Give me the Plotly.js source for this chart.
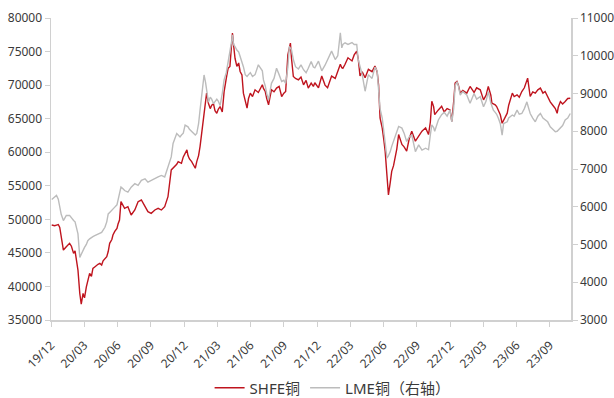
<!DOCTYPE html>
<html>
<head>
<meta charset="utf-8">
<script src="https://cdn.plot.ly/plotly-3.0.1.min.js"></script>
<style>
html,body{margin:0;padding:0;background:#fff;}
#chart{width:614px;height:398px;}
</style>
</head>
<body>
<div id="chart"></div>
<script>
const dates = [
'2020-01-02','2020-01-10','2020-01-15','2020-01-20','2020-01-24','2020-01-28','2020-02-03','2020-02-11','2020-02-20','2020-02-25',
'2020-03-02','2020-03-06','2020-03-09','2020-03-14','2020-03-19','2020-03-23','2020-03-28','2020-04-01','2020-04-06','2020-04-10',
'2020-04-15','2020-04-20','2020-04-24','2020-04-29','2020-05-04','2020-05-08','2020-05-13','2020-05-18','2020-05-22','2020-05-27',
'2020-06-01','2020-06-05','2020-06-09','2020-06-15','2020-06-18','2020-06-23','2020-06-29','2020-07-02','2020-07-06','2020-07-10',
'2020-07-15','2020-07-20','2020-07-29','2020-08-07','2020-08-17','2020-08-26','2020-09-04','2020-09-14','2020-09-22','2020-10-01',
'2020-10-11','2020-10-20','2020-10-29','2020-11-07','2020-11-16','2020-11-25','2020-11-30','2020-12-05','2020-12-10','2020-12-14',
'2020-12-19','2020-12-23','2020-12-28','2021-01-02','2021-01-07','2021-01-10','2021-01-14','2021-01-20','2021-01-25','2021-01-30',
'2021-02-03','2021-02-08','2021-02-12','2021-02-18','2021-02-23','2021-02-27','2021-03-02','2021-03-07','2021-03-12','2021-03-16',
'2021-03-21','2021-03-25','2021-03-30','2021-04-03','2021-04-08','2021-04-14','2021-04-19','2021-04-25','2021-04-30','2021-05-05',
'2021-05-10','2021-05-12','2021-05-15','2021-05-19','2021-05-24','2021-05-29','2021-06-02','2021-06-07','2021-06-11','2021-06-16',
'2021-06-21','2021-06-25','2021-06-30','2021-07-06','2021-07-13','2021-07-22','2021-08-02','2021-08-05','2021-08-10','2021-08-14',
'2021-08-19','2021-08-23','2021-08-27','2021-09-03','2021-09-10','2021-09-17','2021-09-24','2021-09-30','2021-10-05','2021-10-11',
'2021-10-15','2021-10-18','2021-10-21','2021-10-26','2021-11-01','2021-11-09','2021-11-16','2021-11-23','2021-11-30','2021-12-06',
'2021-12-14','2021-12-20','2021-12-24','2022-01-03','2022-01-12','2022-01-21','2022-01-28','2022-02-08','2022-02-18','2022-02-25',
'2022-03-04','2022-03-08','2022-03-11','2022-03-17','2022-03-25','2022-04-05','2022-04-11','2022-04-18','2022-04-22','2022-04-27',
'2022-05-03','2022-05-11','2022-05-20','2022-05-30','2022-06-07','2022-06-13','2022-06-17','2022-06-21','2022-06-27','2022-07-01',
'2022-07-05','2022-07-10','2022-07-14','2022-07-19','2022-07-23','2022-07-28','2022-08-02','2022-08-06','2022-08-11','2022-08-20',
'2022-08-26','2022-09-02','2022-09-09','2022-09-16','2022-09-26','2022-10-05','2022-10-14','2022-10-24','2022-11-01','2022-11-06',
'2022-11-10','2022-11-15','2022-11-18','2022-11-28','2022-12-07','2022-12-14','2022-12-22','2022-12-30','2023-01-04','2023-01-09',
'2023-01-13','2023-01-18','2023-01-22','2023-01-27','2023-02-03','2023-02-14','2023-02-23','2023-03-06','2023-03-13','2023-03-23',
'2023-04-01','2023-04-08','2023-04-14','2023-04-21','2023-04-24','2023-04-28','2023-05-03','2023-05-07','2023-05-12','2023-05-17',
'2023-05-22','2023-05-26','2023-05-31','2023-06-05','2023-06-09','2023-06-19','2023-06-24','2023-07-02','2023-07-08','2023-07-15',
'2023-07-22','2023-07-29','2023-07-31','2023-08-07','2023-08-14','2023-08-21','2023-08-28','2023-09-04','2023-09-11','2023-09-17',
'2023-09-24','2023-10-01','2023-10-08','2023-10-15','2023-10-20','2023-10-23','2023-10-29','2023-11-04','2023-11-11','2023-11-18',
'2023-11-25'
];

const shfeCopper = [
49150,49050,49150,49230,48800,47200,45420,45920,46420,46000,
44930,45300,44430,42430,38950,37360,38950,38300,39940,41000,
41940,41500,42680,42900,43180,43300,43430,43200,43830,44100,
44430,45200,46420,47000,47660,48200,48660,49300,49900,52630,
52000,51640,51890,50650,51390,52630,52880,51890,51140,50900,
51390,51640,51390,51890,53370,57360,57600,57860,58200,58600,
58500,58350,59300,59850,60340,59500,59000,58600,58200,57610,
58600,59500,60840,63500,66500,68200,68800,67300,66500,67000,
67200,66200,65800,66400,66800,66000,69000,71000,72500,72780,
76000,77760,76000,74000,72780,73300,72030,71500,68800,67500,
66570,68000,68800,68300,69300,68900,70050,69500,69050,68000,
67060,68200,69300,69000,69550,69800,68300,68800,69050,74520,
75500,76270,74000,71290,71000,70790,71200,70050,70700,69550,
70300,69800,70350,69600,71350,70000,69600,71350,71000,72100,
73100,72600,72500,73100,74070,73600,74500,75070,74000,71350,
72000,71100,72350,72000,72850,72000,70000,65100,63600,62000,
60150,56500,53650,55500,57150,58000,59150,60500,62630,61150,
60800,60150,62000,63130,61650,62400,63130,63630,62630,64500,
67600,66800,65600,66300,66850,66000,66500,66300,64570,67500,
70300,70540,70000,68800,69200,68800,69800,68900,69600,69300,
67800,68500,69800,68500,67300,67200,67050,66800,66200,65570,
64320,64800,65300,65820,67000,68800,68300,68550,68200,69050,
69600,70540,71040,68300,69000,68800,69300,69550,68800,69050,
68200,67500,67000,66500,65800,66700,67550,67200,67550,68000,
68050
];

const lmeCopper = [
6194,6255,6300,6200,5990,5800,5635,5770,5770,5700,
5635,5600,5500,5280,4660,4750,4850,4925,5000,5100,
5150,5190,5210,5235,5260,5280,5300,5320,5380,5455,
5600,5810,5850,5900,5950,5990,6050,6170,6300,6520,
6480,6430,6390,6520,6610,6565,6700,6740,6650,6700,
6740,6790,6830,6790,7055,7320,7675,7800,7940,7900,
7850,7900,7950,8162,8140,8117,8050,7985,7950,7900,
7940,8200,8560,9000,9490,9300,9100,8770,8900,8850,
8730,8800,8850,8800,8680,9000,9360,9550,9800,10100,
10400,10555,10300,10245,10150,10100,9980,9850,9710,9500,
9450,9500,9550,9450,9500,9760,9600,9360,9200,9000,
8830,9050,9270,9400,9670,9500,9320,9350,9270,9700,
10245,10200,10160,9900,9710,9650,9760,9630,9550,9670,
9850,9700,9678,9856,9600,9750,9900,10122,9900,10000,
10609,10210,10300,10343,10300,10350,10300,10300,9900,9700,
9500,9060,9500,9400,9700,9600,8968,8600,8350,8000,
7730,7290,7350,7460,7600,7750,7900,8000,8127,8083,
7950,7730,7850,7900,7460,7640,7500,7550,7510,7900,
8170,8100,8000,8300,8440,8500,8400,8560,8250,8600,
9200,9314,9200,8960,9050,8960,8740,9000,8850,8915,
8650,8800,9050,8750,8650,8560,8500,8450,8340,8200,
7896,8200,8230,8250,8350,8430,8400,8560,8450,8470,
8600,8780,8700,8470,8350,8250,8400,8470,8350,8300,
8250,8120,8050,7990,8000,8030,8080,8150,8300,8350,
8470
];

const tickDates = ['2019-12-31','2020-03-31','2020-06-30','2020-09-30','2020-12-31','2021-03-31','2021-06-30','2021-09-30',
  '2021-12-31','2022-03-31','2022-06-30','2022-09-30','2022-12-31','2023-03-31','2023-06-30','2023-09-30'];
const tickLabels = ['19/12','20/03','20/06','20/09','20/12','21/03','21/06','21/09',
  '21/12','22/03','22/06','22/09','22/12','23/03','23/06','23/09'];

const seriesNames = ['SHFE铜', 'LME铜（右轴）'];

const FONT = 'Noto Sans, Noto Sans CJK SC, sans-serif';
const AXIS_COLOR = '#d0d0d0';
const TEXT_COLOR = '#3a3a3a';

const traces = [
  {x: dates, y: shfeCopper, name: seriesNames[0], type: 'scatter', mode: 'lines',
   line: {color: '#bf141e', width: 1.4}, yaxis: 'y'},
  {x: dates, y: lmeCopper, name: seriesNames[1], type: 'scatter', mode: 'lines',
   line: {color: '#bcbcbc', width: 1.4}, yaxis: 'y2'}
];

const layout = {
  width: 614, height: 398,
  margin: {l: 51, r: 43, t: 18, b: 78, pad: 0, autoexpand: false},
  paper_bgcolor: '#ffffff', plot_bgcolor: '#ffffff',
  font: {family: FONT, size: 12, color: TEXT_COLOR},
  showlegend: true,
  legend: {orientation: 'h', x: 0.305, xanchor: 'left', y: -0.225, yanchor: 'middle',
    font: {family: FONT, size: 15, color: TEXT_COLOR}, bgcolor: 'rgba(0,0,0,0)'},
  xaxis: {
    type: 'date', range: ['2019-12-31', '2023-11-27'], automargin: false,
    tickmode: 'array', tickvals: tickDates, ticktext: tickLabels, tickangle: -45,
    ticklabelstandoff: 7,
    showline: true, linecolor: AXIS_COLOR, linewidth: 1.5,
    ticks: 'outside', ticklen: 5, tickcolor: AXIS_COLOR, tickwidth: 1,
    showgrid: false, zeroline: false,
    tickfont: {family: FONT, size: 12, color: TEXT_COLOR}
  },
  yaxis: {
    range: [35000, 80000], dtick: 5000, tick0: 35000, tickformat: 'd', automargin: false,
    showline: true, linecolor: AXIS_COLOR, linewidth: 1.5,
    ticks: 'outside', ticklen: 5, tickcolor: AXIS_COLOR, tickwidth: 1,
    showgrid: false, zeroline: false,
    tickfont: {family: FONT, size: 12, color: TEXT_COLOR}
  },
  yaxis2: {
    range: [3000, 11000], dtick: 1000, tick0: 3000, tickformat: 'd', automargin: false,
    overlaying: 'y', side: 'right',
    showline: true, linecolor: AXIS_COLOR, linewidth: 1.5,
    ticks: 'outside', ticklen: 5, tickcolor: AXIS_COLOR, tickwidth: 1,
    showgrid: false, zeroline: false,
    tickfont: {family: FONT, size: 12, color: TEXT_COLOR}
  }
};

Plotly.newPlot('chart', traces, layout, {staticPlot: true, displayModeBar: false});
</script>
</body>
</html>
